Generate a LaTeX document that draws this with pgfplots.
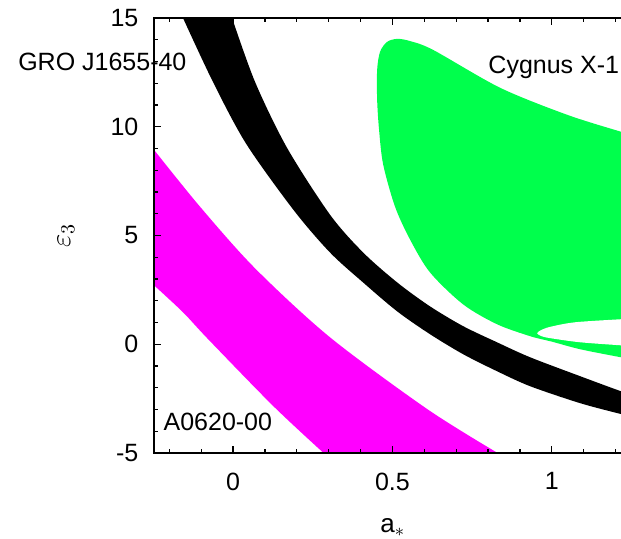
\documentclass[border=0pt]{standalone}
\usepackage{fontspec}
\setmainfont{Liberation Sans}
\usepackage{pgfplots}
\pgfplotsset{compat=1.18}
\usepgfplotslibrary{fillbetween}
\definecolor{cyggreen}{RGB}{0,255,76}
\definecolor{amag}{RGB}{255,0,255}
\begin{document}
\begin{tikzpicture}
\begin{axis}[
  at={(0,0)}, anchor=south west,
  scale only axis, width=238.76pt, height=217.5pt,
  xmin=-0.248, xmax=1.25, ymin=-5, ymax=15,
  axis line style={line width=0.7pt},
  tick align=inside,
  axis on top,
  xtick={0,0.5,1}, xticklabels={0,0.5,1},
  minor xtick={-0.2,-0.1,0.1,0.2,0.3,0.4,0.6,0.7,0.8,0.9,1.1,1.2},
  ytick={-5,0,5,10,15}, yticklabels={-5,0,5,10,15},
  minor ytick={-4,-3,-2,-1,1,2,3,4,6,7,8,9,11,12,13,14},
  major tick length=3.5pt, minor tick length=2pt,
  tick style={black, line width=0.6pt},
  tick label style={font=\fontsize{12.5}{15}\selectfont},
  xticklabel style={yshift=-6.3pt},
  yticklabel style={xshift=-4.3pt},
  xlabel={a$_*$}, ylabel={$\varepsilon_3$},
  every axis x label/.style={at={(axis description cs:0.5,0)}, anchor=base, yshift=-40pt, font=\fontsize{13}{15}\selectfont},
  every axis y label/.style={at={(axis description cs:-0.1843,0.5)}, rotate=90, anchor=center, font=\fontsize{14}{16}\selectfont},
  clip=true,
]
% A0620-00 band
\addplot[draw=none, smooth, name path=mu] coordinates {
  (-0.248,8.94) (-0.104,6.33) (0.069,3.49) (0.304,0.32) (0.609,-2.98) (0.830,-5.0)
};
\addplot[draw=none, smooth, name path=ml] coordinates {
  (-0.248,2.71) (-0.157,1.47) (-0.078,0.23) (0.126,-2.84) (0.284,-5.0)
};
\addplot[amag] fill between[of=mu and ml];
% GRO J1655-40 band
\addplot[draw=none, smooth, name path=bu] coordinates {
  (-0.003,15.00) (0.069,12.06) (0.169,9.04) (0.304,5.96) (0.408,4.22) (0.515,2.84)
  (0.618,1.74) (0.722,0.83) (0.828,0.09) (0.932,-0.60) (1.089,-1.47) (1.217,-2.16)
  (1.26,-2.33)
};
\addplot[draw=none, smooth, name path=bl] coordinates {
  (-0.157,15.00) (-0.063,12.06) (0.041,9.22) (0.191,6.15) (0.304,4.22) (0.408,2.84)
  (0.515,1.51) (0.618,0.46) (0.722,-0.46) (0.828,-1.24) (0.932,-1.93) (1.089,-2.71)
  (1.217,-3.21) (1.26,-3.37)
};
\addplot[black] fill between[of=bu and bl];
% Cygnus X-1 region
\addplot[fill=cyggreen, draw=none, smooth] coordinates {
  (1.26,9.60) (1.217,9.77) (1.048,10.55) (0.838,11.79) (0.628,13.53) (0.555,13.94) (0.515,14.04)
  (0.483,13.90) (0.461,13.44) (0.452,12.61) (0.452,11.24) (0.458,9.86) (0.471,8.26)
  (0.508,6.33) (0.555,4.82) (0.618,3.30) (0.722,1.83) (0.828,0.92) (0.932,0.37)
  (1.000,0.12) (1.089,-0.23) (1.217,-0.60) (1.26,-0.70)
} --cycle;
\addplot[fill=white, draw=none, smooth] coordinates {
  (1.26,1.18) (1.217,1.15) (1.073,1.01) (0.995,0.80) (0.965,0.64) (0.954,0.50) (0.968,0.37)
  (0.995,0.28) (1.089,0.09) (1.217,-0.05) (1.26,-0.09)
} --cycle;
\end{axis}
\begin{axis}[
  at={(0,0)}, anchor=south west,
  scale only axis, width=238.76pt, height=217.5pt,
  xmin=-0.248, xmax=1.25, ymin=-5, ymax=15,
  hide axis, clip=false,
]
\addplot[draw=none] coordinates {(0,0) (1,1)};
\node[anchor=base west, inner sep=0pt, font=\fontsize{12.5}{15}\selectfont] at (axis cs:-0.675,12.58) {GRO J1655-40};
\node[anchor=base west, inner sep=0pt, font=\fontsize{12.5}{15}\selectfont] at (axis cs:0.800,12.43) {Cygnus X-1};
\node[anchor=base west, inner sep=0pt, font=\fontsize{12.5}{15}\selectfont] at (axis cs:-0.219,-3.98) {A0620-00};
\end{axis}
\pgfresetboundingbox
\path[use as bounding box] (-77pt,-43pt) rectangle (233.5pt,226.5pt);
\end{tikzpicture}
\end{document}
